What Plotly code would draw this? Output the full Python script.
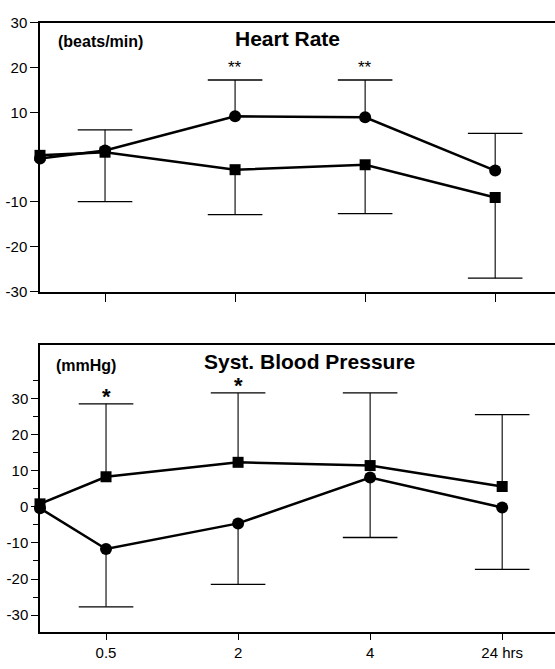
import plotly.graph_objects as go

# ---- data ----
x_pos = [0, 0.5, 1.5, 2.5, 3.5]
tick_vals = [0.5, 1.5, 2.5, 3.5]
tick_text = ["0.5", "2", "4", "24 hrs"]

hr_yticks = [-30, -20, -10, 10, 20, 30]
hr_ytext = ["-30", "-20", "-10", "10", "20", "30"]
bp_yticks = [-30, -20, -10, 0, 10, 20, 30]
bp_ytext = ["-30", "-20", "-10", "0", "10", "20", "30"]

# Heart rate (beats/min)
hr_circle = [-0.3, 1.5, 9.1, 8.9, -3.0]
hr_circle_err_up = [None, 4.6, 8.1, 8.3, 8.3]
hr_square = [0.4, 1.1, -2.8, -1.7, -9.0]
hr_square_err_down = [None, 11.0, 10.0, 10.9, 18.0]

# Systolic blood pressure (mmHg)
bp_square = [0.8, 8.3, 12.3, 11.4, 5.6]
bp_square_err_up = [None, 20.2, 19.2, 20.1, 19.9]
bp_circle = [-0.4, -11.7, -4.6, 8.1, -0.2]
bp_circle_err_down = [None, 16.0, 16.9, 16.6, 17.1]

hr_sig_x = [1.5, 2.5]
hr_sig_text = ["**", "**"]
bp_sig_x = [0.5, 1.5]
bp_sig_text = ["*", "*"]

FONT = "Liberation Sans, Arial, sans-serif"

fig = go.Figure()


def add_series(y, err, direction, symbol, size, xa, ya):
    err_plus = [e if (e is not None and direction > 0) else (0 if e is not None else None) for e in err]
    err_minus = [e if (e is not None and direction < 0) else (0 if e is not None else None) for e in err]
    # error bar stems
    fig.add_trace(go.Scatter(
        x=x_pos, y=y, mode="markers", marker=dict(size=1, color="rgba(0,0,0,0)"),
        error_y=dict(type="data", symmetric=False, array=err_plus, arrayminus=err_minus,
                     width=0, thickness=1.1, color="black"),
        xaxis=xa, yaxis=ya, showlegend=False, hoverinfo="skip", cliponaxis=False))
    # caps
    cap_y = [(v + direction * e) if e is not None else None for v, e in zip(y, err)]
    fig.add_trace(go.Scatter(
        x=x_pos, y=cap_y, mode="markers",
        marker=dict(symbol="line-ew", size=39, line=dict(width=1.3, color="black")),
        xaxis=xa, yaxis=ya, showlegend=False, hoverinfo="skip", cliponaxis=False))
    # line + markers
    fig.add_trace(go.Scatter(
        x=x_pos, y=y, mode="lines+markers",
        line=dict(color="black", width=2.5),
        marker=dict(symbol=symbol, size=size, color="black"),
        xaxis=xa, yaxis=ya, showlegend=False, cliponaxis=False))
    return cap_y


add_series(hr_square, hr_square_err_down, -1, "square", 11, "x", "y")
hr_caps = add_series(hr_circle, hr_circle_err_up, 1, "circle", 12, "x", "y")
add_series(bp_circle, bp_circle_err_down, -1, "circle", 12, "x2", "y2")
bp_caps = add_series(bp_square, bp_square_err_up, 1, "square", 11, "x2", "y2")

annotations = []
for x, t in zip(hr_sig_x, hr_sig_text):
    annotations.append(dict(x=x, y=hr_caps[x_pos.index(x)], xref="x", yref="y", text=t, showarrow=False,
                            font=dict(family=FONT, size=17, color="black"),
                            yanchor="middle", yshift=13))
for x, t in zip(bp_sig_x, bp_sig_text):
    annotations.append(dict(x=x, y=bp_caps[x_pos.index(x)], xref="x2", yref="y2", text="<b>" + t + "</b>",
                            showarrow=False, font=dict(family=FONT, size=22, color="black"),
                            yanchor="middle", yshift=7))

annotations += [
    dict(x=0.480, y=0.9552, xref="paper", yref="paper", text="<b>Heart Rate</b>", showarrow=False,
         font=dict(family=FONT, size=21, color="black"), xanchor="center", yanchor="middle"),
    dict(x=0.031, y=0.9507, xref="paper", yref="paper", text="<b>(beats/min)</b>", showarrow=False,
         font=dict(family=FONT, size=16, color="black"), xanchor="left", yanchor="middle"),
    dict(x=0.524, y=0.4589, xref="paper", yref="paper", text="<b>Syst. Blood Pressure</b>", showarrow=False,
         font=dict(family=FONT, size=21, color="black"), xanchor="center", yanchor="middle"),
    dict(x=0.027, y=0.4529, xref="paper", yref="paper", text="<b>(mmHg)</b>", showarrow=False,
         font=dict(family=FONT, size=16, color="black"), xanchor="left", yanchor="middle"),
]

axis_common = dict(showgrid=False, zeroline=False, linecolor="black",
                   tickcolor="black", ticks="outside",
                   tickfont=dict(family=FONT, size=15, color="black"))

fig.update_layout(
    width=555, height=669,
    margin=dict(l=40, r=0, t=0, b=0),
    paper_bgcolor="white", plot_bgcolor="white",
    showlegend=False,
    annotations=annotations,
    xaxis=dict(**axis_common, domain=[0, 1], anchor="y", range=[0, 3.96],
               showline=True, linewidth=2, mirror=True,
               tickvals=tick_vals, ticktext=["", "", "", ""], ticklen=8, tickwidth=1.3),
    yaxis=dict(**axis_common, domain=[0.5665, 0.9791], anchor="x", range=[-30, 30],
               showline=True, linewidth=1.5,
               tickvals=hr_yticks, ticktext=hr_ytext, ticklen=8, tickwidth=1.3),
    xaxis2=dict(**axis_common, domain=[0, 1], anchor="y2", range=[0, 3.9],
                showline=True, linewidth=2, mirror=True,
                tickvals=tick_vals, ticktext=tick_text, ticklen=6, tickwidth=1.3),
    yaxis2=dict(**axis_common, domain=[0.0448, 0.4843], anchor="x2", range=[-34.6, 44.7],
                showline=True, linewidth=1.5,
                tickvals=bp_yticks, ticktext=bp_ytext, ticklen=7, tickwidth=1.3,
                minor=dict(tick0=5, dtick=10, ticks="outside", ticklen=5, tickwidth=1.1, tickcolor="black")),
)

post = (
    "document.documentElement.style.margin='0';"
    "document.body.style.margin='0';"
    "document.body.style.overflow='hidden';"
    "var g=document.getElementsByClassName('plotly-graph-div')[0];"
    "g.style.position='fixed';g.style.left='0px';g.style.top='0px';"
)

fig.write_html("out.html", config={"displayModeBar": False}, post_script=post)
